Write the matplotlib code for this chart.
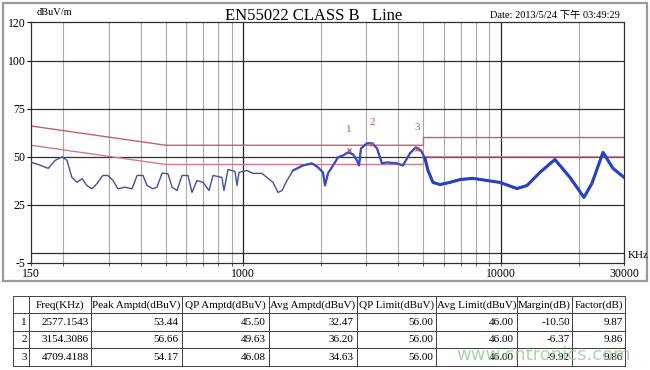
import matplotlib
matplotlib.use("Agg")
from matplotlib import pyplot as plt
from matplotlib.patches import Rectangle
from matplotlib.ticker import FixedLocator, NullFormatter
import numpy as np

freq = [150, 160, 175, 186, 198, 207, 216, 226, 237, 247, 259, 270, 285, 298, 312,
        326, 347, 370, 387, 408, 423, 446, 462, 484, 510, 529, 553, 578, 610, 632,
        661, 698, 736, 763, 826, 841, 872, 928, 945, 962, 1033, 1090, 1181, 1247,
        1303, 1363, 1413, 1477, 1559, 1704, 1846, 1948, 2037, 2074, 2131, 2228,
        2330, 2436, 2547, 2664, 2761, 2811, 2862, 3019, 3157, 3301, 3451, 3609,
        3946, 4164, 4431, 4675, 4890, 5069, 5206, 5444, 5796, 6337, 6929, 7782,
        8821, 9904, 11529, 12608, 14158, 16184, 18511, 20969, 22524, 24865,
        27186, 30000]
level = [47.2, 46.0, 44.0, 48.1, 50.0, 48.1, 39.4, 36.8, 38.6, 35.1, 33.4, 36.0,
         40.3, 40.3, 37.7, 33.4, 34.2, 33.4, 40.3, 40.3, 35.1, 33.4, 34.2, 41.5,
         41.2, 34.2, 32.5, 40.3, 40.3, 31.5, 37.7, 36.7, 32.5, 40.3, 39.3, 32.5,
         43.4, 42.4, 35.1, 41.9, 42.9, 41.4, 41.4, 38.8, 36.7, 31.5, 32.5, 37.7,
         42.9, 45.5, 46.6, 44.5, 41.9, 35.1, 41.4, 45.5, 49.7, 50.7, 52.3, 51.3,
         48.1, 45.5, 54.4, 57.0, 57.0, 54.4, 46.6, 47.1, 46.6, 45.5, 51.8, 54.9,
         53.3, 49.2, 42.9, 36.7, 35.6, 36.7, 38.2, 38.8, 37.7, 36.7, 33.5, 35.1,
         41.9, 48.6, 39.3, 28.9, 36.2, 52.3, 44.0, 39.3]

# EN55022 class B limits
qp_f = [150, 500, 5000, 5000, 30000]
qp_v = [66, 56, 56, 60, 60]
avg_f = [150, 500, 5000, 5000, 30000]
avg_v = [56, 46, 46, 50, 50]

# marked peaks
mk_no = ["1", "2", "3"]
mk_f = [2577.1543, 3154.3086, 4709.4188]
mk_peak = [53.44, 56.66, 54.17]

yticks = [-5, 25, 50, 75, 100, 120]
xlabels = [150, 1000, 10000, 30000]

col_labels = ["", "Freq(KHz)", "Peak Amptd(dBuV)", "QP Amptd(dBuV)", "Avg Amptd(dBuV)",
              "QP Limit(dBuV)", "Avg Limit(dBuV)", "Margin(dB)", "Factor(dB)"]
rows = [["1", "2577.1543", "53.44", "45.50", "32.47", "56.00", "46.00", "-10.50", "9.87"],
        ["2", "3154.3086", "56.66", "49.63", "36.20", "56.00", "46.00", "-6.37", "9.86"],
        ["3", "4709.4188", "54.17", "46.08", "34.63", "56.00", "46.00", "-9.92", "9.86"]]

serif = ["Liberation Serif", "Noto Sans CJK SC", "DejaVu Serif"]
plt.rcParams["font.family"] = serif

fig = plt.figure(figsize=(6.5, 3.7), dpi=100)
fig.patches.append(Rectangle((0.005, 0.24), 0.99, 0.752, transform=fig.transFigure,
                             fill=False, edgecolor="#9a9a9a", lw=1.6))

ax = fig.add_axes([0.0477, 0.29, 0.9123, 0.6505])
ax.set_xscale("log")
ax.set_xlim(150, 30000)
ax.set_ylim(-5, 120)

minor = [f * d for d in (100, 1000, 10000) for f in range(2, 10) if 150 < f * d < 30000]
for f in minor:
    ax.axvline(f, color="#a8a8a8", lw=0.8, zorder=1)
for f in (1000, 10000):
    ax.axvline(f, color="#202020", lw=0.9, zorder=1)
for v in (0, 25, 50, 75, 100):
    ax.axhline(v, color="#303030", lw=0.9, zorder=1)

ax.plot(qp_f, qp_v, color="#c8606a", lw=1.0, zorder=2)
ax.plot(avg_f, avg_v, color="#d07898", lw=1.0, zorder=2)

fr = np.array(freq)
lv = np.array(level)
ax.plot(fr, lv, color="#44509a", lw=1.0, zorder=3)
hi = fr >= 1500
ax.plot(fr[hi], lv[hi], color="#3a4cc0", lw=1.6, zorder=3)
ax.plot(fr[fr >= 5000], lv[fr >= 5000], color="#2840c8", lw=2.2, zorder=3)

ax.plot(mk_f, mk_peak, "x", color="#c04a6a", ms=3, mew=0.8, zorder=4)
for n, f, v in zip(mk_no, mk_f, mk_peak):
    ax.annotate(n, (f, v), xytext=(0, 12), textcoords="offset points",
                ha="center", va="bottom", color="#c04a6a", fontsize=8)

ax.xaxis.set_major_locator(FixedLocator(xlabels))
ax.set_xticklabels([str(x) for x in xlabels], fontsize=8.5)
ax.xaxis.set_minor_locator(FixedLocator(minor))
ax.xaxis.set_minor_formatter(NullFormatter())
ax.tick_params(axis="x", which="both", length=2, width=0.6, pad=2, color="#404040")
ax.set_yticks(yticks)
ax.set_yticklabels([str(y) for y in yticks], fontsize=8.5)
ax.tick_params(axis="y", length=3, width=0.8, pad=1)
for s in ax.spines.values():
    s.set_color("#303030")
    s.set_linewidth(0.9)

fig.text(0.965, 0.31, "KHz", fontsize=8, ha="left", va="center")
fig.text(0.057, 0.965, "dBuV/m", fontsize=7.5, ha="left", va="center")
fig.text(0.483, 0.958, "EN55022 CLASS B   Line", fontsize=12, ha="center", va="center")
fig.text(0.953, 0.96, "Date: 2013/5/24 下午 03:49:29", fontsize=7.5, ha="right", va="center")

# results table
widths = [16, 62, 91, 87, 88, 79, 81, 55, 53]
tax = fig.add_axes([0.02, 0.011, 0.9415, 0.189])
tax.axis("off")
tab = tax.table(cellText=rows, colLabels=col_labels, colWidths=[w / sum(widths) for w in widths],
                bbox=[0, 0, 1, 1], cellLoc="right")
tab.auto_set_font_size(False)
for (r, c), cell in tab.get_celld().items():
    cell.set_linewidth(0.7)
    cell.set_edgecolor("#404040")
    txt = cell.get_text()
    txt.set_fontsize(8)
    txt.set_fontfamily(serif)
    if r == 0:
        txt.set_ha("center")
        cell.PAD = 0.02
    else:
        cell.PAD = 0.04
    if c == 0 and r > 0:
        cell.PAD = 0.15

fig.text(0.97, 0.04, "www.cntronics.com", fontsize=13, family="DejaVu Sans",
         color="#8cc08c", alpha=0.7, ha="right", va="center")

fig.savefig("out.png", dpi=100)
